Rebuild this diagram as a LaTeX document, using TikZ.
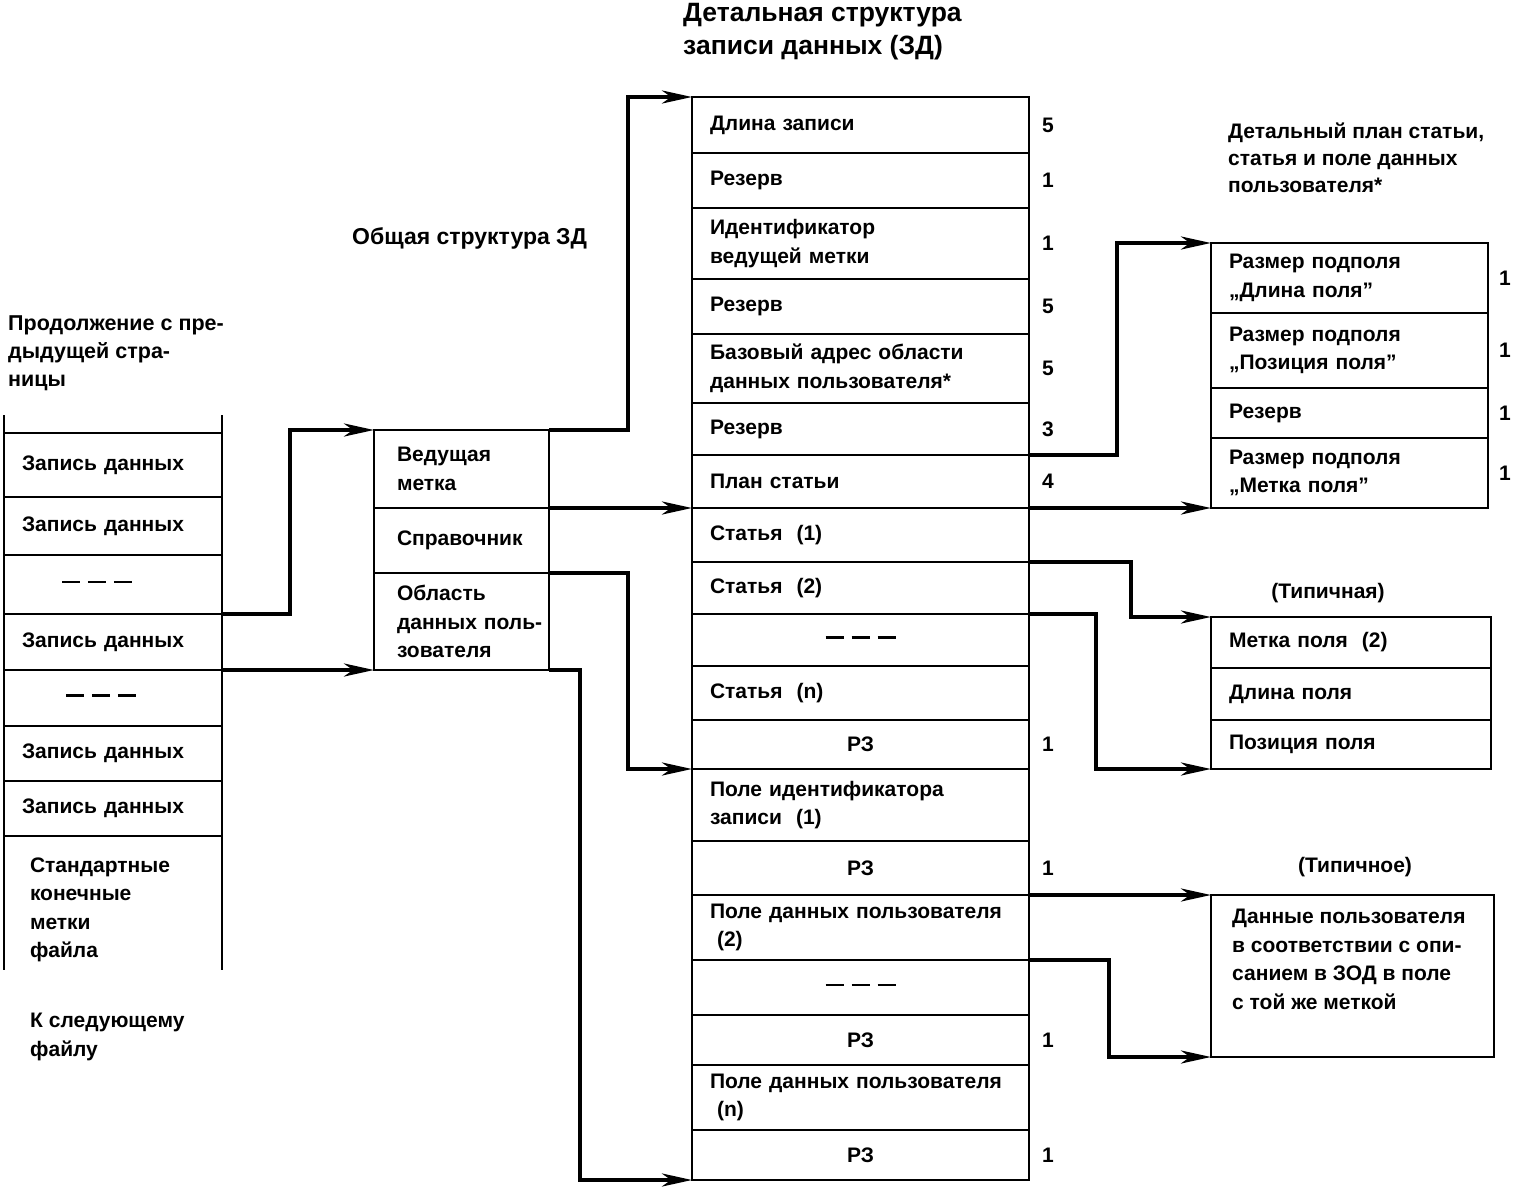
\documentclass[tikz,border=0pt]{standalone}
\usepackage{fontspec}
\setmainfont{Liberation Sans}
\usetikzlibrary{arrows.meta}
\newcommand{\omitted}{\rule[5pt]{18pt}{2.2pt}\hspace{8pt}\rule[5pt]{18pt}{2.2pt}\hspace{8pt}\rule[5pt]{18pt}{2.2pt}}

\begin{document}
\begin{tikzpicture}[x=1pt,y=-1pt,
  every node/.style={font=\bfseries\fontsize{21}{28.5}\selectfont},
  cell/.style={draw,line width=2.6pt,anchor=north west,outer sep=0pt,inner xsep=18pt,inner ysep=0pt,align=left},
  reccell/.style={cell,text width=182pt},
  gencell/.style={cell,inner xsep=23pt,text width=129pt},
  detcell/.style={cell,text width=301pt},
  plancell/.style={cell,text width=241pt},
  typcell/.style={cell,text width=244pt},
  note/.style={inner sep=0pt,anchor=west,align=left},
  size/.style={inner sep=0pt},
  conn/.style={line width=4pt,-{Stealth[length=30pt,width=13pt,inset=9pt]}}]
\useasboundingbox (0,0) rectangle (1513,1191);

% captions
\node[note,font=\bfseries\fontsize{26.5}{33}\selectfont] (dettitle) at (683,32) {Детальная структура\\записи данных (ЗД)};
\node[note,font=\bfseries\fontsize{23}{28.5}\selectfont] (gentitle) at (352,238) {Общая структура ЗД};
\node[note,font=\bfseries\fontsize{21}{27}\selectfont] (plantitle) at (1228,158) {Детальный план статьи,\\статья и поле данных\\пользователя*};
\node[note,font=\bfseries\fontsize{21.5}{28}\selectfont] (prevpage) at (8,353) {Продолжение с пре-\\дыдущей стра-\\ницы};
\node[note] (nextfile) at (30,1037) {К следующему\\файлу};
\node[size] (typa) at (1328,593) {(Типичная)};
\node[size] (typb) at (1355,867) {(Типичное)};

% file of records
\foreach \n/\ya/\yb/\txt in {1/433/497/Запись данных,2/497/555/Запись данных,
  3/555/614/{\hspace*{40pt}\omitted},4/614/670/Запись данных,
  5/670/726/{\hspace*{44pt}\omitted},6/726/781/Запись данных,7/781/836/Запись данных}
  \node[reccell,minimum height={(\yb-\ya)*1pt}] (rec\n) at (4,\ya) {\txt};
\node[reccell,draw=none,inner xsep=26pt,text width=166pt,minimum height=148pt] (recend) at (4,836) {Стандартные\\конечные\\метки\\файла};
\draw[line width=2.6pt] (4,415) -- (4,970) (222,415) -- (222,970);

% general structure
\foreach \n/\ya/\yb/\txt in {1/430/508/{Ведущая\\метка},2/508/573/Справочник,3/573/670/{Область\\\mbox{данных поль-}\\зователя}}
  \node[gencell,minimum height={(\yb-\ya)*1pt}] (gen\n) at (374,\ya) {\txt};

% detailed structure
\foreach \n/\ya/\yb/\al/\txt in {1/97/153/left/Длина записи,2/153/208/left/Резерв,
  3/208/279/left/{Идентификатор\\ведущей метки},4/279/334/left/Резерв,
  5/334/403/left/{Базовый адрес области\\данных пользователя*},6/403/455/left/Резерв,
  7/455/508/left/План статьи,8/508/562/left/Статья\ \ (1),9/562/614/left/Статья\ \ (2),
  10/614/666/center/\omitted,11/666/720/left/Статья\ \ (n),12/720/769/center/РЗ,
  13/769/841/left/{Поле идентификатора\\записи\ \ (1)},14/841/895/center/РЗ,
  15/895/960/left/{Поле данных пользователя\\\ (2)},16/960/1015/center/\omitted,
  17/1015/1065/center/РЗ,18/1065/1130/left/{Поле данных пользователя\\\ (n)},19/1130/1180/center/РЗ}
  \node[detcell,align=\al,minimum height={(\yb-\ya)*1pt}] (det\n) at (692,\ya) {\txt};
\foreach \n/\v in {1/5,2/1,3/1,4/5,5/5,6/3,7/4,12/1,14/1,17/1,19/1}
  \node[size] (sz\n) at ([xshift=19pt]det\n.east) {\v};

% entry plan
\foreach \n/\ya/\yb/\txt in {1/243/313/{Размер подполя\\„Длина поля”},2/313/388/{Размер подполя\\„Позиция поля”},
  3/388/438/Резерв,4/438/508/{Размер подполя\\„Метка поля”}}
  \node[plancell,minimum height={(\yb-\ya)*1pt}] (plan\n) at (1211,\ya) {\txt};
\foreach \n in {1,...,4}
  \node[size] (psz\n) at ([xshift=17pt]plan\n.east) {1};

% typical entry
\foreach \n/\ya/\yb/\txt in {1/617/668/Метка поля\ \ (2),2/668/720/Длина поля,3/720/769/Позиция поля}
  \node[typcell,minimum height={(\yb-\ya)*1pt}] (typ\n) at (1211,\ya) {\txt};

% typical user data field
\node[cell,text width=247pt,minimum height=162pt] (udata) at (1211,895) {};
\node[note,anchor=north west] (udtext) at (1232,909) {Данные пользователя\\в соответствии с опи-\\санием в ЗОД в поле\\с той же меткой};

% connectors
\coordinate (jA) at (290,0);
\coordinate (jB) at (628,0);
\coordinate (jC) at (580,0);
\coordinate (jD) at (1117,0);
\coordinate (jE) at (1131,0);
\coordinate (jF) at (1096,0);
\coordinate (jG) at (1109,0);
\draw[conn] (rec3.south east) -- (rec3.south east -| jA) |- (gen1.north west);
\draw[conn] (rec4.south east) -- (gen3.south west);
\draw[conn] (gen1.north east) -- (gen1.north east -| jB) |- (det1.north west);
\draw[conn] (gen1.south east) -- (det8.north west);
\draw[conn] (gen2.south east) -- (gen2.south east -| jB) |- (det13.north west);
\draw[conn] (gen3.south east) -- (gen3.south east -| jC) |- (det19.south west);
\draw[conn] (det6.south east) -- (det6.south east -| jD) |- (plan1.north west);
\draw[conn] (det7.south east) -- (plan4.south west);
\draw[conn] (det8.south east) -- (det8.south east -| jE) |- (typ1.north west);
\draw[conn] (det9.south east) -- (det9.south east -| jF) |- (typ3.south west);
\draw[conn] (det14.south east) -- (udata.north west);
\draw[conn] (det15.south east) -- (det15.south east -| jG) |- (udata.south west);
\end{tikzpicture}
\end{document}
